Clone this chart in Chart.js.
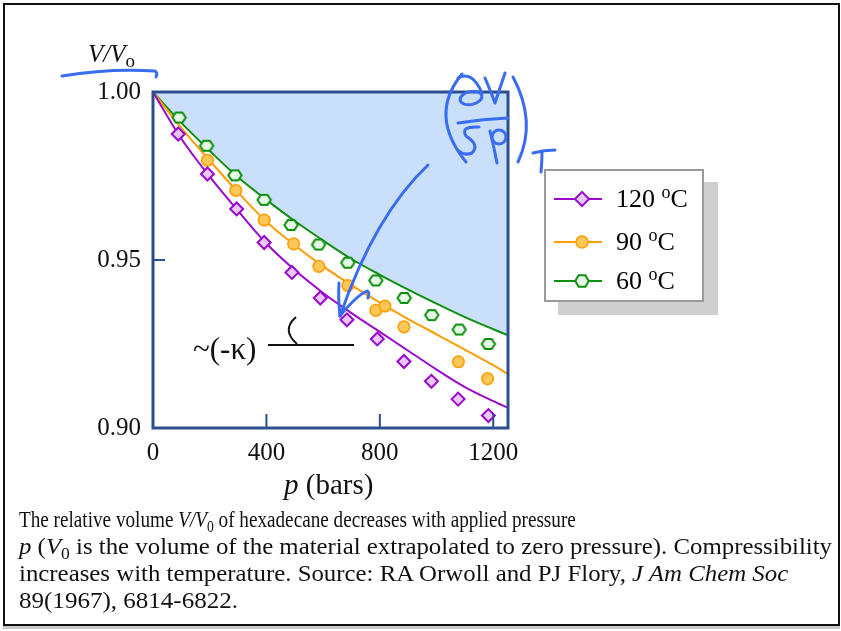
<!DOCTYPE html>
<html>
<head>
<meta charset="utf-8">
<script src="https://cdn.jsdelivr.net/npm/chart.js@4.4.1/dist/chart.umd.min.js"></script>
<style>
  html, body { margin: 0; padding: 0; background: #fff; }
  #page { position: relative; width: 841px; height: 631px; overflow: hidden; font-family: "Liberation Serif", "DejaVu Serif", serif; }
  #frame { position: absolute; left: 3px; top: 3px; width: 833px; height: 619px; border: 2px solid #111; box-shadow: 0 3px 0 #c8c8c8; }
  #chart { position: absolute; left: 0; top: 0; }
  .txt { position: absolute; color: #111; white-space: nowrap; }
  #ytitle { left: 88px; top: 40px; font-size: 25px; }
  #ytitle sub { font-style: normal; font-size: 19px; vertical-align: -5px; line-height: 0; }
  #xtitle { left: 284px; top: 468px; font-size: 29px; }
  .cap { position: absolute; left: 19px; font-size: 24px; line-height: 27px; color: #111; white-space: nowrap; transform-origin: 0 50%; }
  .cap sub { font-size: 17px; vertical-align: -5px; line-height: 0; }
  #legend { position: absolute; left: 544px; top: 169px; width: 156px; height: 129px; background: #fff; border: 2px solid #9a9a9a; box-shadow: 14px 13px 0 #cfcfcf; }
  .item { position: absolute; left: 8px; height: 30px; font-size: 26px; line-height: 30px; }
  .item svg { position: absolute; left: 0; top: 5px; }
  .item span { position: absolute; left: 62px; top: 0; white-space: nowrap; }
  .item sup { font-size: 18px; vertical-align: 9px; line-height: 0; }
</style>
</head>
<body>
<div id="page">
  <div id="frame"></div>
  <canvas id="chart" width="841" height="631"></canvas>
  <div class="txt" id="ytitle"><i>V/V</i><sub>o</sub></div>
  <div class="txt" id="xtitle"><i>p</i> (bars)</div>
  <div id="legend"></div>
  <div class="cap" style="top:506px" data-w="557">The relative volume <i>V/V</i><sub>0</sub> of hexadecane decreases with applied pressure</div>
  <div class="cap" style="top:533px" data-w="813"><i>p</i> (<i>V</i><sub>0</sub> is the volume of the material extrapolated to zero pressure). Compressibility</div>
  <div class="cap" style="top:560px" data-w="769">increases with temperature. Source: RA Orwoll and PJ Flory, <i>J Am Chem Soc</i></div>
  <div class="cap" style="top:587px" data-w="219">89(1967), 6814-6822.</div>
</div>
<script>
// Data (p in bars, V/Vo)
const curveP = [0, 100, 200, 300, 400, 500, 600, 700, 800, 900, 1000, 1100, 1200, 1252];
const fit120 = [1.0000, 0.9861, 0.9748, 0.9646, 0.9549, 0.9470, 0.9402, 0.9342, 0.9286, 0.9230, 0.9174, 0.9122, 0.9080, 0.9060];
const fit90  = [1.0000, 0.9893, 0.9796, 0.9701, 0.9614, 0.9544, 0.9481, 0.9425, 0.9373, 0.9324, 0.9279, 0.9233, 0.9187, 0.9160];
const fit60  = [1.0000, 0.9908, 0.9825, 0.9746, 0.9679, 0.9616, 0.9558, 0.9503, 0.9456, 0.9412, 0.9370, 0.9330, 0.9294, 0.9276];

const p120 = [89, 192, 295, 392, 490, 590, 684, 791, 885, 982, 1076, 1183];
const v120 = [0.9875, 0.9756, 0.9652, 0.9552, 0.9463, 0.9387, 0.9322, 0.9265, 0.9198, 0.9139, 0.9086, 0.9037];
const p90  = [192, 292, 392, 496, 585, 687, 786, 818, 885, 1077, 1180];
const v90  = [0.9797, 0.9707, 0.9619, 0.9548, 0.9481, 0.9424, 0.9350, 0.9363, 0.9301, 0.9197, 0.9147];
const p60  = [92, 189, 289, 392, 487, 584, 687, 786, 886, 983, 1080, 1183];
const v60  = [0.9924, 0.9840, 0.9752, 0.9679, 0.9604, 0.9546, 0.9492, 0.9439, 0.9387, 0.9336, 0.9293, 0.9250];

const seriesLabels = ['120', '90', '60'];
const xTicks = [0, 400, 800, 1200];
const yTicks = [0.90, 0.95, 1.00];

const C = {
    purple: '#9a08cc', purpleFill: '#e8c8fb',
    orange: '#ff9c00', orangeFill: '#ffc658',
    green: '#0f8f0f', greenFill: '#e6f9e6',
    shade: '#c9dffa', axis: '#2c4e8e', ink: '#3a6cf2'
};

const toXY = (xs, ys) => xs.map((x, i) => ({ x: x, y: ys[i] }));

function hexImage(stroke, fill) {
    const c = document.createElement('canvas');
    c.width = 18; c.height = 16;
    const g = c.getContext('2d');
    g.beginPath();
    for (let i = 0; i < 6; i++) {
        const a = Math.PI / 3 * i;
        const x = 9 + 6.7 * Math.cos(a), y = 8 + 5.7 * Math.sin(a);
        if (i) g.lineTo(x, y); else g.moveTo(x, y);
    }
    g.closePath();
    g.fillStyle = fill; g.fill();
    g.lineWidth = 2; g.strokeStyle = stroke; g.stroke();
    return c;
}

// Inward tick marks, frame and the hand-drawn notes
const decorations = {
    id: 'decorations',
    afterDraw(chart) {
        const { ctx, chartArea: a, scales } = chart;
        ctx.save();
        ctx.strokeStyle = C.axis;
        ctx.lineWidth = 2;
        xTicks.forEach(v => {
            if (v <= scales.x.min) return;
            const x = scales.x.getPixelForValue(v);
            ctx.beginPath(); ctx.moveTo(x, a.bottom); ctx.lineTo(x, a.bottom - 14); ctx.stroke();
        });
        yTicks.forEach(v => {
            if (v <= scales.y.min || v >= scales.y.max) return;
            const y = scales.y.getPixelForValue(v);
            ctx.beginPath(); ctx.moveTo(a.left, y); ctx.lineTo(a.left + 12, y); ctx.stroke();
        });
        ctx.lineWidth = 3;
        ctx.strokeRect(a.left, a.top, a.right - a.left, a.bottom - a.top);

        // ~(-k) slope note
        ctx.fillStyle = '#111';
        ctx.font = '31px "Liberation Serif"';
        ctx.textBaseline = 'alphabetic';
        ctx.fillText('~(-\u03BA)', 193, 359);
        ctx.strokeStyle = '#111';
        ctx.lineWidth = 2;
        ctx.beginPath(); ctx.moveTo(268, 345); ctx.lineTo(354, 345); ctx.stroke();
        ctx.beginPath(); ctx.moveTo(297, 344); ctx.quadraticCurveTo(281, 330, 296, 317); ctx.stroke();

        // blue pen strokes
        ctx.strokeStyle = C.ink;
        ctx.lineWidth = 3;
        ctx.lineCap = 'round';
        ctx.lineJoin = 'round';
        const path = pts => {
            ctx.beginPath();
            ctx.moveTo(pts[0][0], pts[0][1]);
            for (let i = 1; i + 1 < pts.length; i += 2) ctx.quadraticCurveTo(pts[i][0], pts[i][1], pts[i + 1][0], pts[i + 1][1]);
            ctx.stroke();
        };
        path([[62, 76], [110, 68], [155, 71], [158, 73], [156, 77]]);           // underline under V/Vo
        path([[428, 165], [375, 215], [340, 316]]);                             // arrow shaft
        path([[340, 316], [338, 298], [339, 283]]);                             // arrow head left
        path([[340, 316], [356, 296], [367, 291], [370, 292], [368, 298]]);     // arrow head right
        path([[462, 74], [428, 115], [466, 162]]);                              // (
        path([[513, 77], [537, 122], [518, 162]]);                              // )
        path([[458, 78], [472, 70], [482, 93]]);                                // d stem
        ctx.beginPath(); ctx.ellipse(471, 98, 11, 6.5, -0.2, 0, Math.PI * 2); ctx.stroke();
        path([[485, 78], [491, 92], [495, 103], [500, 88], [505, 73]]);         // V
        path([[458, 123], [483, 119], [508, 118]]);                             // fraction bar
        path([[479, 127], [460, 126], [466, 136], [480, 145], [472, 153], [464, 156], [459, 151]]); // S
        path([[490, 131], [494, 147], [497, 163]]);                             // p stem
        ctx.beginPath(); ctx.ellipse(499, 137, 7, 7, 0, 0, Math.PI * 2); ctx.stroke();
        path([[533, 153], [544, 150], [555, 150]]);                             // T bar
        path([[542, 152], [542, 162], [541, 172]]);                             // T stem
        ctx.restore();
    }
};

const fitLine = (label, ys, color, extra) => Object.assign({
    type: 'line', label: label, data: toXY(curveP, ys),
    borderColor: color, borderWidth: 2, pointRadius: 0,
    cubicInterpolationMode: 'monotone', fill: false
}, extra || {});

const markers = (label, xs, ys, style, stroke, fill, radius, bw) => ({
    type: 'scatter', label: label, data: toXY(xs, ys),
    pointStyle: style, pointRadius: radius, pointBorderWidth: bw,
    borderColor: stroke, backgroundColor: fill,
    pointBackgroundColor: fill, pointBorderColor: stroke, showLine: false
});

const hex = hexImage(C.green, C.greenFill);

const chart = new Chart(document.getElementById('chart'), {
    data: {
        datasets: [
            markers(seriesLabels[0], p120, v120, 'rectRot', C.purple, C.purpleFill, 6.5, 2),
            markers(seriesLabels[1], p90, v90, 'circle', C.orange, C.orangeFill, 5.8, 1.5),
            markers(seriesLabels[2], p60, v60, hex, C.green, C.greenFill, 6, 2),
            fitLine('fit 120', fit120, C.purple),
            fitLine('fit 90', fit90, C.orange),
            fitLine('fit 60', fit60, C.green, { fill: 'end', backgroundColor: C.shade })
        ]
    },
    options: {
        responsive: false,
        animation: false,
        devicePixelRatio: 1,
        layout: { padding: { left: 93, top: 92, right: 333, bottom: 163 } },
        plugins: { legend: { display: false }, tooltip: { enabled: false } },
        scales: {
            x: {
                type: 'linear', min: 0, max: 1252,
                grid: { display: false, drawTicks: false },
                border: { display: false },
                afterFit: s => { s.height = 40; },
                afterBuildTicks: s => { s.ticks = xTicks.map(v => ({ value: v })); },
                ticks: { padding: 10, color: '#111', font: { family: 'Liberation Serif', size: 25 }, maxRotation: 0,
                         callback: v => String(v) }
            },
            y: {
                type: 'linear', min: 0.90, max: 1.00,
                grid: { display: false, drawTicks: false },
                border: { display: false },
                afterFit: s => { s.width = 60; },
                afterBuildTicks: s => { s.ticks = yTicks.map(v => ({ value: v })); },
                ticks: { padding: 12, color: '#111', font: { family: 'Liberation Serif', size: 25 },
                         callback: v => Number(v).toFixed(2) }
            }
        }
    },
    plugins: [decorations]
});

// Legend box
const legendItems = [
    { label: seriesLabels[0], color: C.purple, marker: '<rect x="23" y="5" width="10" height="10" transform="rotate(45 28 10)" fill="' + C.purpleFill + '" stroke="' + C.purple + '" stroke-width="2"/>' },
    { label: seriesLabels[1], color: C.orange, marker: '<circle cx="28" cy="10" r="6" fill="' + C.orangeFill + '" stroke="' + C.orange + '" stroke-width="1.5"/>' },
    { label: seriesLabels[2], color: C.green, marker: '<polygon points="34.7,10 31.4,15.7 24.6,15.7 21.3,10 24.6,4.3 31.4,4.3" fill="' + C.greenFill + '" stroke="' + C.green + '" stroke-width="2"/>' }
];
const tops = [13, 56, 95];
document.getElementById('legend').innerHTML = legendItems.map((it, i) => `
    <div class="item" style="top:${tops[i]}px">
        <svg width="56" height="20"><line x1="0" y1="10" x2="48" y2="10" stroke="${it.color}" stroke-width="2"/>${it.marker}</svg>
        <span>${it.label} <sup>o</sup>C</span>
    </div>`).join('');

// fit each caption line to the width it has in the figure
document.querySelectorAll('.cap').forEach(el => {
    const w = el.getBoundingClientRect().width;
    el.style.transform = 'scaleX(' + (Number(el.dataset.w) / w).toFixed(3) + ')';
});
</script>
</body>
</html>
